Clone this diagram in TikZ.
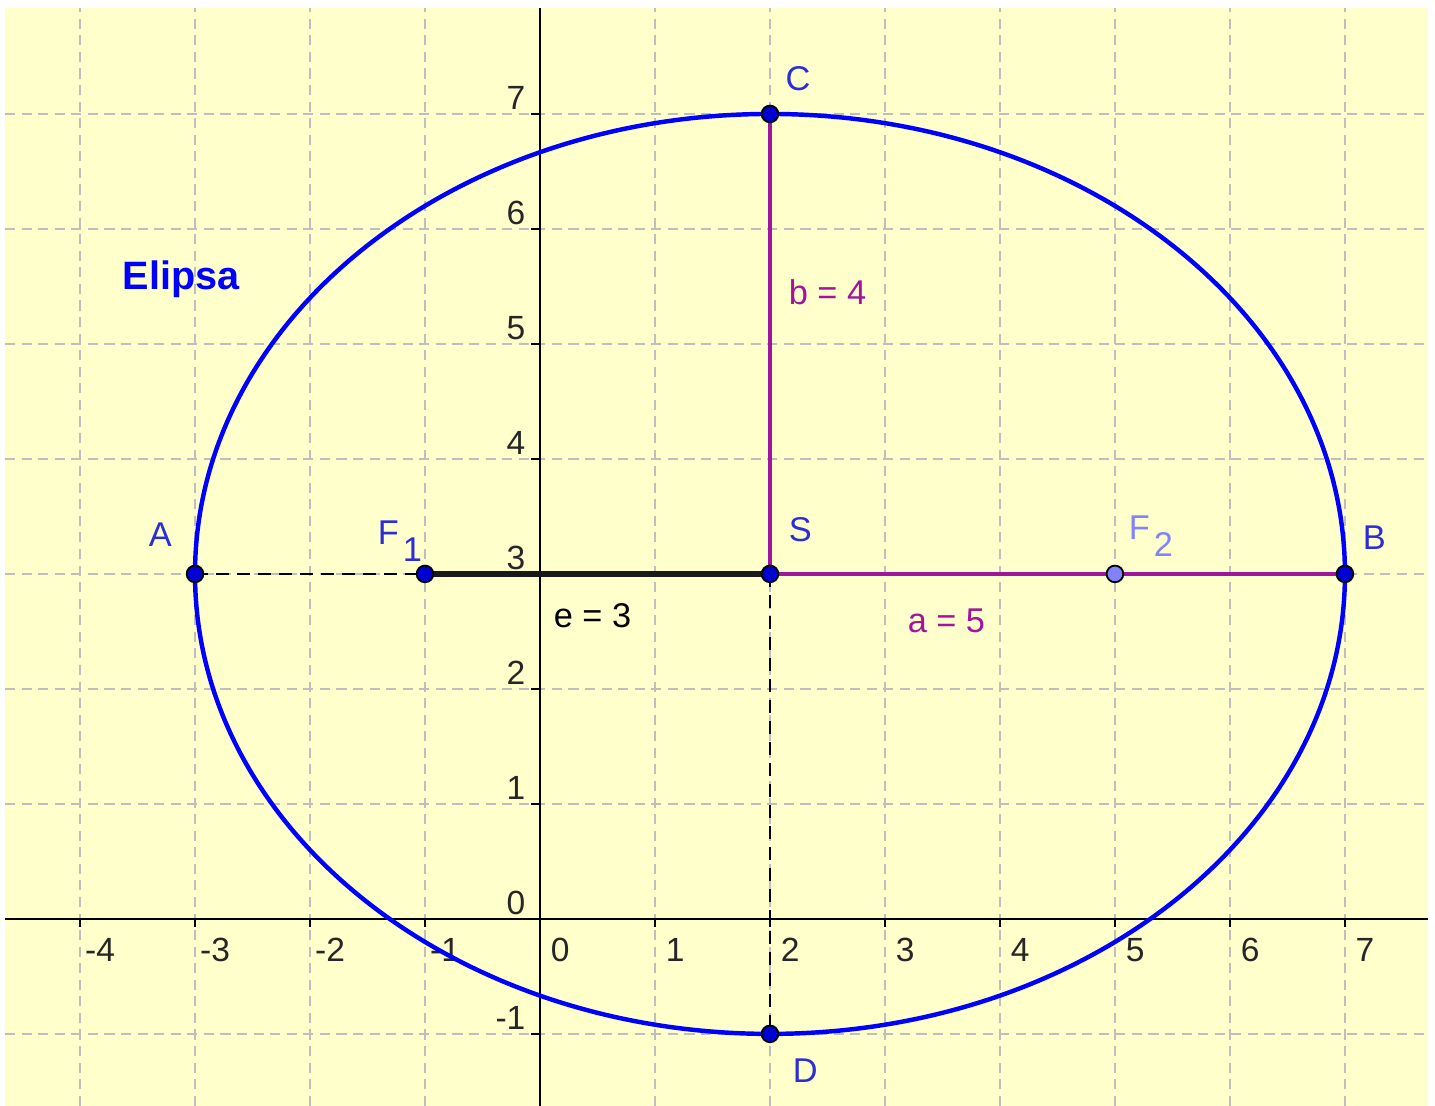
\documentclass[tikz,border=0pt]{standalone}
\usepackage{fontspec}
\setmainfont{Liberation Sans}
\definecolor{bgyellow}{RGB}{255,255,204}
\definecolor{gridgray}{RGB}{190,190,190}
\definecolor{ellblue}{RGB}{0,0,255}
\definecolor{ptblue}{RGB}{0,0,210}
\definecolor{lblblue}{RGB}{45,45,215}
\definecolor{lightpt}{RGB}{130,130,255}
\definecolor{semipurple}{RGB}{160,20,160}
\tikzset{
  gridline/.style={draw=gridgray, line width=0.4pt, dash pattern=on 2.5pt off 1.6pt},
  axisline/.style={draw=black, line width=0.55pt},
  tickline/.style={draw=black, line width=0.5pt},
  axlbl/.style={font=\fontsize{8.3}{10}\selectfont, inner sep=0pt, text=black!85},
  helper/.style={draw=black, line width=0.45pt, dash pattern=on 3.2pt off 2pt},
  ellcurve/.style={draw=ellblue, line width=1.1pt},
  focalseg/.style={draw=black!90, line width=1.3pt},
  semiaxis/.style={draw=semipurple, line width=1.1pt},
  pt/.style={circle, draw=black, line width=0.45pt, fill=ptblue, minimum size=0.145cm, inner sep=0pt},
  ptlight/.style={pt, fill=lightpt},
  ptlbl/.style={font=\fontsize{8.5}{10}\selectfont, inner sep=0pt, anchor=base west, text=lblblue},
  vallbl/.style={font=\fontsize{8.5}{10}\selectfont, inner sep=0pt, anchor=base west},
}
\begin{document}
\begin{tikzpicture}[x=1cm,y=1cm]
\useasboundingbox (-4.696,-1.626) rectangle (7.783,7.991);
\fill[bgyellow] (-4.652,-1.626) rectangle (7.722,7.922);
% grid
\foreach \x in {-4,...,7} \draw[gridline] (\x,-1.626) -- (\x,7.922);
\foreach \y in {-1,...,7} \draw[gridline] (-4.652,\y) -- (7.722,\y);
% axes
\draw[axisline] (-4.652,0) -- (7.722,0);
\draw[axisline] (0,-1.626) -- (0,7.922);
\foreach \x in {-4,...,7} {
  \draw[tickline] (\x,0) -- (\x,-0.07);
  \node[axlbl, anchor=base] (xl\x) at (\x+0.175,-0.374) {\x};
}
\foreach \y in {-1,...,7} {
  \draw[tickline] (0,\y) -- (-0.08,\y);
  \node[axlbl, anchor=base east] (yl\y) at (-0.12,\y+0.04) {\y};
}
% points
\coordinate (A) at (-3,3);
\coordinate (B) at (7,3);
\coordinate (C) at (2,7);
\coordinate (D) at (2,-1);
\coordinate (S) at (2,3);
\coordinate (F1) at (-1,3);
\coordinate (F2) at (5,3);
% helper dashed lines
\draw[helper] (A) -- (F1);
\draw[helper] (S) -- (D);
% ellipse
\draw[ellcurve] (S) ellipse [x radius=5, y radius=4];
% segments
\draw[focalseg] (F1) -- (S);
\draw[semiaxis] (S) -- (B);
\draw[semiaxis] (S) -- (C);
% point marks
\node[pt] (pA) at (A) {};
\node[pt] (pB) at (B) {};
\node[pt] (pC) at (C) {};
\node[pt] (pD) at (D) {};
\node[pt] (pS) at (S) {};
\node[pt] (pF1) at (F1) {};
\node[ptlight] (pF2) at (F2) {};
% point labels
\node[ptlbl] (lA) at (-3.409,3.235) {A};
\node[ptlbl] (lF1) at (-1.417,3.252) {F\kern1pt\lower4.2pt\hbox{1}};
\node[ptlbl] (lS) at (2.157,3.278) {S};
\node[ptlbl, text=lightpt] (lF2) at (5.113,3.296) {F\kern1pt\lower4.2pt\hbox{2}};
\node[ptlbl] (lB) at (7.148,3.209) {B};
\node[ptlbl] (lC) at (2.130,7.200) {C};
\node[ptlbl] (lD) at (2.191,-1.426) {D};
% value labels
\node[vallbl, text=semipurple] (lb) at (2.157,5.339) {b = 4};
\node[vallbl, text=semipurple] (la) at (3.191,2.487) {a = 5};
\node[vallbl, text=black] (le) at (0.113,2.530) {e = 3};
\node[anchor=base west, inner sep=0pt, text=ellblue, font=\fontsize{9.8}{12}\selectfont\bfseries] (title) at (-3.635,5.470) {Elipsa};
\end{tikzpicture}
\end{document}
